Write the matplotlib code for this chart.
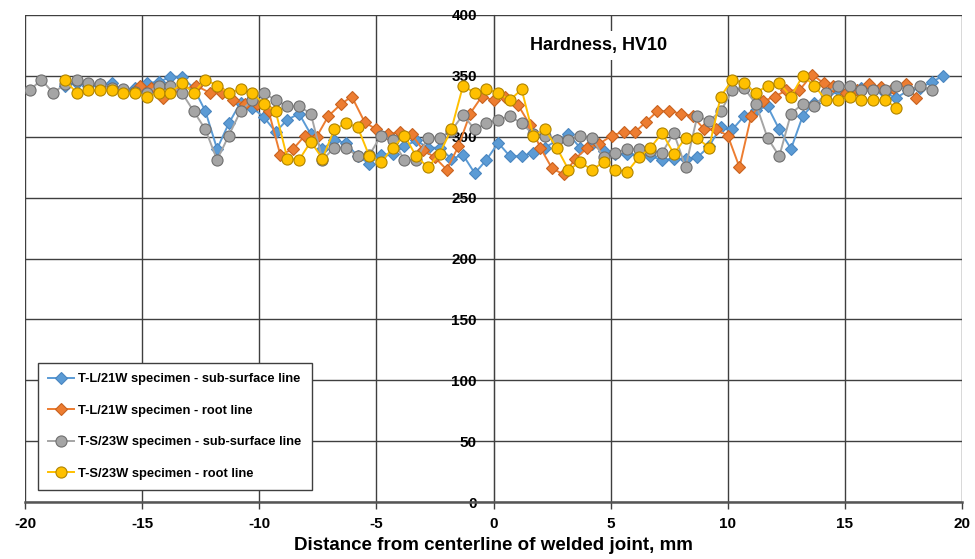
import matplotlib
matplotlib.use("Agg")
import matplotlib.pyplot as plt

# ---------------- data ----------------
tl_sub_x = [-18.3, -17.8, -17.3, -16.8, -16.3, -15.8, -15.3, -14.8, -14.3, -13.8, -13.3, -12.8,
            -12.3, -11.8, -11.3, -10.8, -10.3, -9.8, -9.3, -8.8, -8.3, -7.8, -7.3, -6.8, -6.3,
            -5.8, -5.3, -4.8, -4.3, -3.8, -3.3, -2.8, -2.3, -1.8, -1.3, -0.8, -0.3, 0.2, 0.7,
            1.2, 1.7, 2.2, 2.7, 3.2, 3.7, 4.2, 4.7, 5.2, 5.7, 6.2, 6.7, 7.2, 7.7, 8.2, 8.7,
            9.2, 9.7, 10.2, 10.7, 11.2, 11.7, 12.2, 12.7, 13.2, 13.7, 14.2, 14.7, 15.2, 15.7,
            16.2, 16.7, 17.2, 17.7, 18.2, 18.7, 19.2]
tl_sub_y = [342, 344, 342, 343, 344, 338, 340, 344, 345, 349, 349, 340,
            321, 290, 311, 328, 324, 316, 304, 314, 319, 302, 290, 297, 295,
            284, 278, 285, 286, 292, 297, 291, 291, 282, 285, 270, 281, 295, 284,
            284, 287, 291, 297, 302, 291, 294, 288, 286, 286, 285, 284, 281, 282, 282, 283,
            292, 308, 306, 317, 322, 325, 306, 290, 317, 328, 331, 338, 336, 340,
            338, 336, 332, 338, 340, 345, 350]

tl_root_x = [-15.1, -14.6, -14.1, -13.4, -12.7, -12.1, -11.6, -11.1, -10.6, -10.1, -9.6, -9.1,
             -8.55, -8.05, -7.55, -7.05, -6.5, -6.05, -5.5, -5.0, -4.5, -4.0, -3.5, -3.0,
             -2.5, -2.0, -1.5, -1.0, -0.5, 0.0, 0.5, 1.05, 1.55, 2.0, 2.5, 3.0, 3.5, 4.0,
             4.5, 5.05, 5.55, 6.05, 6.5, 7.0, 7.5, 8.0, 8.5, 9.0, 9.5, 10.0, 10.5, 11.0,
             11.5, 12.0, 12.5, 13.05, 13.6, 14.1, 14.5, 15.05, 15.5, 16.05, 16.55, 17.05,
             17.6, 18.05]
tl_root_y = [342, 340, 332, 338, 342, 336, 336, 330, 327, 327, 321, 285,
             290, 301, 300, 317, 327, 333, 312, 306, 302, 304, 302, 289,
             283, 273, 292, 319, 333, 330, 333, 326, 310, 291, 274, 269, 282, 291,
             294, 301, 304, 304, 312, 321, 321, 319, 317, 306, 306, 301, 275, 317,
             329, 333, 338, 338, 351, 344, 342, 336, 338, 343, 341, 340,
             343, 332]

ts_sub_x = [-19.8, -19.3, -18.8, -18.3, -17.8, -17.3, -16.8, -16.3, -15.8, -15.3, -14.8, -14.3,
            -13.8, -13.3, -12.8, -12.3, -11.8, -11.3, -10.8, -10.3, -9.8, -9.3, -8.8, -8.3,
            -7.8, -7.3, -6.8, -6.3, -5.8, -5.3, -4.8, -4.3, -3.8, -3.3, -2.8, -2.3, -1.8,
            -1.3, -0.8, -0.3, 0.2, 0.7, 1.2, 1.7, 2.2, 2.7, 3.2, 3.7, 4.2, 4.7, 5.2, 5.7,
            6.2, 6.7, 7.2, 7.7, 8.2, 8.7, 9.2, 9.7, 10.2, 10.7, 11.2, 11.7, 12.2, 12.7,
            13.2, 13.7, 14.2, 14.7, 15.2, 15.7, 16.2, 16.7, 17.2, 17.7, 18.2, 18.7]
ts_sub_y = [338, 347, 336, 343, 347, 344, 343, 340, 339, 337, 336, 342,
            342, 336, 321, 306, 281, 301, 321, 330, 336, 330, 325, 325,
            319, 281, 291, 291, 284, 285, 301, 297, 281, 281, 299, 299, 305,
            318, 306, 311, 314, 317, 311, 302, 301, 297, 297, 301, 299, 283, 287, 290,
            290, 288, 287, 303, 275, 317, 313, 321, 338, 340, 327, 299, 284, 319,
            327, 325, 336, 342, 342, 338, 338, 338, 342, 338, 342, 338]

ts_root_x = [-18.3, -17.8, -17.3, -16.8, -16.3, -15.8, -15.3, -14.8, -14.3, -13.8, -13.3, -12.8,
             -12.3, -11.8, -11.3, -10.8, -10.3, -9.8, -9.3, -8.8, -8.3, -7.8, -7.3, -6.8,
             -6.3, -5.8, -5.3, -4.8, -4.3, -3.8, -3.3, -2.8, -2.3, -1.8, -1.3, -0.8, -0.3,
             0.2, 0.7, 1.2, 1.7, 2.2, 2.7, 3.2, 3.7, 4.2, 4.7, 5.2, 5.7, 6.2, 6.7, 7.2, 7.7,
             8.2, 8.7, 9.2, 9.7, 10.2, 10.7, 11.2, 11.7, 12.2, 12.7, 13.2, 13.7, 14.2, 14.7,
             15.2, 15.7, 16.2, 16.7, 17.2]
ts_root_y = [347, 336, 338, 338, 338, 336, 336, 333, 336, 336, 344, 336,
             347, 342, 336, 339, 336, 327, 321, 282, 281, 296, 282, 306,
             311, 308, 284, 279, 291, 301, 284, 275, 286, 306, 342, 336, 339,
             336, 330, 339, 301, 306, 291, 273, 279, 273, 279, 273, 271, 283, 291, 303, 286,
             299, 299, 291, 333, 347, 344, 336, 342, 344, 333, 350, 342, 330, 330,
             333, 330, 330, 330, 324]

labels = ["T-L/21W specimen - sub-surface line",
          "T-L/21W specimen - root line",
          "T-S/23W specimen - sub-surface line",
          "T-S/23W specimen - root line"]
x_ticks = [-20, -15, -10, -5, 0, 5, 10, 15, 20]
y_ticks = [0, 50, 100, 150, 200, 250, 300, 350, 400]
title_text = "Hardness, HV10"
xlabel_text = "Distance from centerline of welded joint, mm"

# ---------------- style ----------------
plt.rcParams['font.family'] = ['Liberation Sans', 'DejaVu Sans']
plt.rcParams['axes.unicode_minus'] = False

fig = plt.figure(figsize=(9.75, 5.59), dpi=100)
ax = fig.add_axes([25/975, 1-502/559, 937/975, 487/559])

grid_c = '#3f3f3f'
ax.set_xlim(-20, 20)
ax.set_ylim(0, 400)
ax.set_xticks(x_ticks)
ax.set_yticks(y_ticks)
ax.grid(True, color=grid_c, linewidth=1.0, zorder=0)
ax.set_axisbelow(True)

for s in ['top', 'right']:
    ax.spines[s].set_visible(False)
ax.spines['left'].set_position(('data', 0))
ax.spines['left'].set_color(grid_c)
ax.spines['bottom'].set_color('#555555')
ax.spines['bottom'].set_linewidth(1.8)

ax.tick_params(axis='x', direction='out', length=5, width=1, color=grid_c, pad=6,
               labelsize=11)
ax.tick_params(axis='y', direction='out', length=0, pad=12, labelsize=11)
for t in ax.get_xticklabels() + ax.get_yticklabels():
    t.set_fontweight('bold')
for t in ax.get_yticklabels():
    t.set_zorder(10)

specs = [
    (tl_sub_x, tl_sub_y, '#5B9BD5', 'D', '#4a86c0', 6.5),
    (tl_root_x, tl_root_y, '#ED7D31', 'D', '#c8621f', 6.5),
    (ts_sub_x, ts_sub_y, '#A5A5A5', 'o', '#6f6f6f', 8.0),
    (ts_root_x, ts_root_y, '#FFC000', 'o', '#b08400', 8.0),
]
for (xs, ys, c, m, ec, ms), lab in zip(specs, labels):
    ax.plot(xs, ys, color=c, linewidth=1.4, marker=m, markersize=ms,
            markerfacecolor=c, markeredgecolor=ec, markeredgewidth=0.8,
            label=lab, zorder=3)

ax.text(4.5, 375, title_text, fontsize=13, fontweight='bold', ha='center', va='center',
        bbox=dict(facecolor='white', edgecolor='none', pad=4), zorder=5)

ax.set_xlabel(xlabel_text, fontsize=13.5, fontweight='bold', labelpad=4)

leg = ax.legend(loc='lower left', bbox_to_anchor=(13/937, 12/487), borderaxespad=0,
                fancybox=False, edgecolor='#3f3f3f', framealpha=1, handlelength=2.0,
                labelspacing=1.5, borderpad=0.8, handletextpad=0.3,
                prop={'weight': 'bold', 'size': 9.3})
leg.get_frame().set_linewidth(1.0)
leg.set_zorder(6)

fig.savefig('out.png', dpi=100)
